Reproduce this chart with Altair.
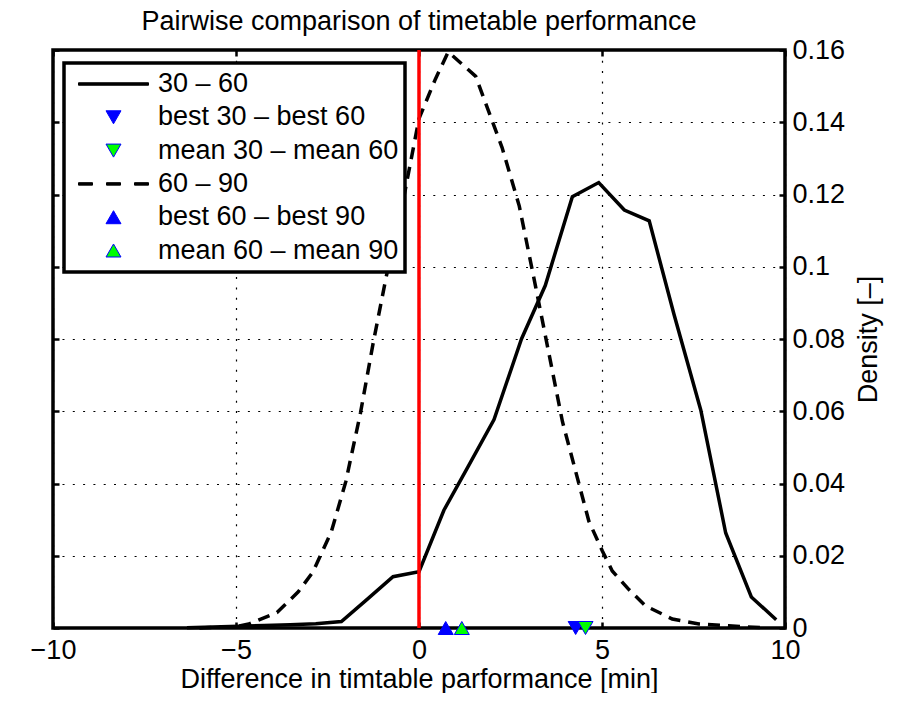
import altair as alt
import pandas as pd

# ---- data ----
solid_x = [-6.34, -5.63, -4.93, -4.23, -3.52, -2.82, -2.12, -1.41, -0.71, 0.0, 0.68, 1.36,
           2.05, 2.80, 3.45, 4.19, 4.91, 5.61, 6.29, 6.97, 7.70, 8.38, 9.08, 9.76]
solid_y = [0.0001, 0.0003, 0.0005, 0.0007, 0.0009, 0.0012, 0.0018, 0.0080, 0.0142, 0.0156, 0.0326, 0.0450,
           0.0577, 0.0800, 0.0948, 0.1194, 0.1233, 0.1157, 0.1127, 0.0867, 0.0603, 0.0263, 0.0086, 0.0023]

dashed_x = [-6.0, -5.0, -4.65, -3.88, -3.3, -2.9, -2.4, -2.0, -1.6, -1.25, -0.9, -0.4, 0.0, 0.45, 0.8,
            1.55, 2.27, 2.74, 3.19, 3.92, 4.64, 5.01, 5.28, 5.73, 6.19, 6.92, 7.65, 8.46, 9.5]
dashed_y = [0.0, 0.0004, 0.0011, 0.0043, 0.0100, 0.0155, 0.0265, 0.0405, 0.0595, 0.079, 0.097, 0.120, 0.141, 0.152, 0.1595,
            0.1527, 0.133, 0.1168, 0.0943, 0.0571, 0.0296, 0.0213, 0.0158, 0.0107, 0.0061, 0.0025, 0.0011, 0.0006, 0.0]

marker_labels = ["best 60 – best 90", "mean 60 – mean 90", "best 30 – best 60", "mean 30 – mean 60"]
marker_x = [0.73, 1.17, 4.28, 4.55]
marker_y = [0.0, 0.0, 0.0, 0.0]

legend_labels = ["30 – 60", "best 30 – best 60", "mean 30 – mean 60",
                 "60 – 90", "best 60 – best 90", "mean 60 – mean 90"]

zero_line_x = [0.0]

x_ticks = [-10, -5, 0, 5, 10]
y_ticks = [0, 0.02, 0.04, 0.06, 0.08, 0.1, 0.12, 0.14, 0.16]

# ---- styling ----
FONT = "Liberation Sans"
FS = 27
LW = 3.5

SOLID = "M-1,-0.035L1,-0.035L1,0.035L-1,0.035Z"
DASHED = ("M-1,-0.035L-0.6,-0.035L-0.6,0.035L-1,0.035Z"
          "M-0.2,-0.035L0.2,-0.035L0.2,0.035L-0.2,0.035Z"
          "M0.6,-0.035L1,-0.035L1,0.035L0.6,0.035Z")
TRI_DOWN = "M-0.214,-0.186L0.214,-0.186L0,0.186Z"
TRI_UP = "M0,-0.186L0.214,0.186L-0.214,0.186Z"

solid_df = pd.DataFrame({"x": solid_x, "y": solid_y})
dashed_df = pd.DataFrame({"x": dashed_x, "y": dashed_y})
marker_df = pd.DataFrame({"x": marker_x, "y": marker_y, "label": marker_labels})
zero_df = pd.DataFrame({"x": zero_line_x})

x_scale = alt.Scale(domain=[-10, 10], nice=False, zero=False)
y_scale = alt.Scale(domain=[0, 0.16], nice=False, zero=False)

grid_kw = dict(grid=True, gridDash=[2, 8.3], gridColor="black", gridWidth=1.2, gridOpacity=1)

x_label_axis = alt.Axis(orient="bottom", values=x_ticks, domain=False, ticks=False, tickSize=0,
                        labelFont=FONT, labelFontSize=FS, labelColor="black", labelPadding=9,
                        labelFlush=False, labelOverlap=False, format="d",
                        title="Difference in timtable parformance [min]", titleFont=FONT,
                        titleFontSize=FS, titleFontWeight="normal", titleColor="black",
                        titleBaseline="alphabetic", titleX=366, titleY=59, titleAnchor="middle",
                        titleAlign="center", **grid_kw)
y_label_axis = alt.Axis(orient="right", values=y_ticks, domain=False, ticks=False, tickSize=0,
                        labelFont=FONT, labelFontSize=FS, labelColor="black", labelPadding=7,
                        labelFlush=False, labelOverlap=False, format=".2~f",
                        title="Density [–]", titleFont=FONT, titleFontSize=FS,
                        titleFontWeight="normal", titleColor="black", titleAngle=270,
                        titleBaseline="alphabetic", titleX=91, titleY=289, titleAlign="center",
                        **grid_kw)

tick_kw = dict(labels=False, title=None, grid=False, domain=False, ticks=True, tickSize=6,
               tickWidth=2.5, tickColor="black", offset=-6)
x_tick_bottom = alt.Axis(orient="bottom", values=x_ticks, **tick_kw)
x_tick_top = alt.Axis(orient="top", values=x_ticks, **tick_kw)
y_tick_left = alt.Axis(orient="left", values=y_ticks, **tick_kw)
y_tick_right = alt.Axis(orient="right", values=y_ticks, **tick_kw)

dashed = alt.Chart(dashed_df).mark_line(color="black", strokeWidth=LW, strokeDash=[12, 8]).encode(
    x=alt.X("x:Q", scale=x_scale, axis=x_label_axis),
    y=alt.Y("y:Q", scale=y_scale, axis=y_label_axis),
)

solid = alt.Chart(solid_df).mark_line(color="black", strokeWidth=LW).encode(
    x=alt.X("x:Q", scale=x_scale, axis=x_tick_bottom),
    y=alt.Y("y:Q", scale=y_scale, axis=y_tick_left),
)

zero_rule = alt.Chart(zero_df).mark_rule(color="#ff0000", strokeWidth=LW).encode(
    x=alt.X("x:Q", scale=x_scale, axis=None),
)

leg = alt.Legend(title=None, orient="none", legendX=11, legendY=13, labelFont=FONT,
                 labelFontSize=FS, labelColor="black", symbolSize=4900, symbolStrokeWidth=1,
                 symbolOpacity=1, clipHeight=30, rowPadding=3.3, padding=6, symbolOffset=8,
                 labelOffset=9, strokeColor="black", fillColor="white", zindex=2,
                 labelLimit=400)

markers = alt.Chart(marker_df).mark_point(size=4900, opacity=1, strokeWidth=1, filled=False).encode(
    x=alt.X("x:Q", scale=x_scale, axis=x_tick_top),
    y=alt.Y("y:Q", scale=y_scale, axis=y_tick_right),
    shape=alt.Shape("label:N", scale=alt.Scale(domain=legend_labels,
                    range=[SOLID, TRI_DOWN, TRI_DOWN, DASHED, TRI_UP, TRI_UP]), legend=leg),
    fill=alt.Fill("label:N", scale=alt.Scale(domain=legend_labels,
                  range=["black", "#0000ff", "#00ff00", "black", "#0000ff", "#00ff00"]), legend=leg),
    stroke=alt.Stroke("label:N", scale=alt.Scale(domain=legend_labels,
                      range=["black", "#0000ff", "#0000ff", "black", "#0000ff", "#0000ff"]), legend=leg),
)

chart = alt.layer(dashed, solid, zero_rule, markers).resolve_axis(
    x="independent", y="independent"
).properties(
    width=732, height=578,
    padding={"left": 45, "top": 42, "right": 100, "bottom": 65},
    autosize=alt.AutoSizeParams(type="none"),
    title=alt.Title("Pairwise comparison of timetable performance", font=FONT, fontSize=FS,
                    fontWeight="normal", color="black", frame="group", anchor="middle",
                    offset=0),
    background="white",
).configure_view(
    stroke="black", strokeWidth=LW
).configure_legend(
    strokeWidth=3.5
)

chart.save("out.html", embed_options={"renderer": "svg", "actions": False})
